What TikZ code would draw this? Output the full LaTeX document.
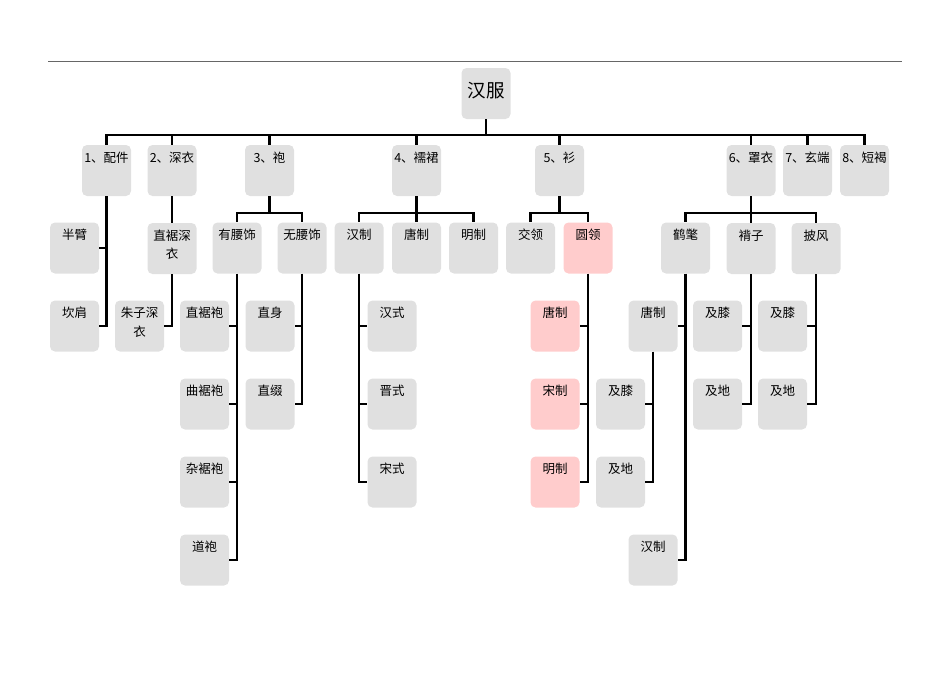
\documentclass[tikz,border=0pt]{standalone}
\usepackage{fontspec}
\setmainfont{Noto Sans CJK SC}
\usepackage{tikz}
\usetikzlibrary{positioning}
\definecolor{boxgray}{RGB}{224,224,224}
\definecolor{boxpink}{RGB}{255,204,204}
\tikzstyle{box} = [fill=boxgray, rounded corners=5pt, text width=46pt, align=center,
    inner xsep=1.5pt, inner ysep=0pt, text height=17pt, text depth=34pt,
    font=\fontsize{12.5}{18.5}\selectfont, node distance=78pt]
\tikzstyle{hot} = [box, fill=boxpink]
\tikzstyle{rootbox} = [box, text height=29pt, text depth=22pt,
    font=\fontsize{18.5}{22}\selectfont]
\tikzstyle{conn} = [draw, line width=2.4pt]

\begin{document}
\begin{tikzpicture}[x=1pt, y=-1pt]
  \useasboundingbox (0,0) rectangle (950,672);
  \draw [black!60, line width=0.8pt] (48,61) -- (902,61);

  \node [rootbox] (c) at (486,93.5) {汉服};
  % first level
  \node [box] (c1) at (106.5,170.5) {1、配件};
  \node [box] (c2) at (172,170.5) {2、深衣};
  \node [box] (c3) at (269.5,170.5) {3、袍};
  \node [box] (c4) at (416.5,170.5) {4、襦裙};
  \node [box] (c5) at (559.5,170.5) {5、衫};
  \node [box] (c6) at (751,170.5) {6、罩衣};
  \node [box, right of=c6, node distance=56.5pt] (c7) {7、玄端};
  \node [box, right of=c7, node distance=57pt] (c8) {8、短褐};

  % 1 and 2
  \node [box] (c11) at (74.5,248) {半臂};
  \node [box, below of=c11] (c12) {坎肩};
  \node [box, below of=c2] (c21) {直裾深\\衣};
  \node [box] (c211) at (139.5,326) {朱子深\\衣};

  % 3
  \node [box] (c31) at (237,248) {有腰饰};
  \node [box, right of=c31, node distance=65pt] (c32) {无腰饰};
  \node [box] (c311) at (204.5,326) {直裾袍};
  \node [box, below of=c311] (c312) {曲裾袍};
  \node [box, below of=c312] (c313) {杂裾袍};
  \node [box, below of=c313] (c314) {道袍};
  \node [box] (c321) at (270,326) {直身};
  \node [box, below of=c321] (c322) {直缀};

  % 4
  \node [box] (c41) at (359,248) {汉制};
  \node [box, right of=c41, node distance=57.5pt] (c42) {唐制};
  \node [box, right of=c42, node distance=57pt] (c43) {明制};
  \node [box] (c411) at (392,326) {汉式};
  \node [box, below of=c411] (c412) {晋式};
  \node [box, below of=c412] (c413) {宋式};

  % 5
  \node [box] (c51) at (530.5,248) {交领};
  \node [hot, right of=c51, node distance=57.5pt] (c52) {圆领};
  \node [hot] (c521) at (555,326) {唐制};
  \node [hot, below of=c521] (c522) {宋制};
  \node [hot, below of=c522] (c523) {明制};

  % 6
  \node [box] (c61) at (685.5,248) {鹤氅};
  \node [box, below of=c6] (c62) {褙子};
  \node [box, right of=c62, node distance=65pt] (c63) {披风};
  \node [box] (c611) at (653,326) {唐制};
  \node [box] (c6111) at (620.5,404) {及膝};
  \node [box, below of=c6111] (c6112) {及地};
  \node [box] (c612) at (653,560) {汉制};
  \node [box] (c621) at (717.5,326) {及膝};
  \node [box, below of=c621] (c622) {及地};
  \node [box] (c631) at (782.5,326) {及膝};
  \node [box, below of=c631] (c632) {及地};

  \draw [conn] (c.south) -- ++(0,16) -| (c1.north)
    (c.south) -- ++(0,16) -| (c2.north) (c.south) -- ++(0,16) -| (c3.north)
    (c.south) -- ++(0,16) -| (c4.north) (c.south) -- ++(0,16) -| (c5.north)
    (c.south) -- ++(0,16) -| (c6.north) (c.south) -- ++(0,16) -| (c7.north)
    (c.south) -- ++(0,16) -| (c8.north);
  \draw [conn] (c1.south) |- (c11.east) (c1.south) |- (c12.east);
  \draw [conn] (c2.south) -- (c21.north) (c21.south) |- (c211.east);
  \draw [conn] (c3.south) -- ++(0,16.5) -| (c31.north)
    (c3.south) -- ++(0,16.5) -| (c32.north);
  \draw [conn] (c31.south) |- (c311.east) (c31.south) |- (c312.east)
    (c31.south) |- (c313.east) (c31.south) |- (c314.east);
  \draw [conn] (c32.south) |- (c321.east) (c32.south) |- (c322.east);
  \draw [conn] (c4.south) -- ++(0,16.5) -| (c41.north)
    (c4.south) -- ++(0,16.5) -| (c42.north) (c4.south) -- ++(0,16.5) -| (c43.north);
  \draw [conn] (c41.south) |- (c411.west) (c41.south) |- (c412.west)
    (c41.south) |- (c413.west);
  \draw [conn] (c5.south) -- ++(0,16.5) -| (c51.north)
    (c5.south) -- ++(0,16.5) -| (c52.north);
  \draw [conn] (c52.south) |- (c521.east) (c52.south) |- (c522.east)
    (c52.south) |- (c523.east);
  \draw [conn] (c6.south) -- ++(0,16.5) -| (c61.north)
    (c6.south) -- (c62.north) (c6.south) -- ++(0,16.5) -| (c63.north);
  \draw [conn] (c61.south) |- (c611.east) (c61.south) |- (c612.east);
  \draw [conn] (c611.south) |- (c6111.east) (c611.south) |- (c6112.east);
  \draw [conn] (c62.south) |- (c621.east) (c62.south) |- (c622.east);
  \draw [conn] (c63.south) |- (c631.east) (c63.south) |- (c632.east);
\end{tikzpicture}
\end{document}
